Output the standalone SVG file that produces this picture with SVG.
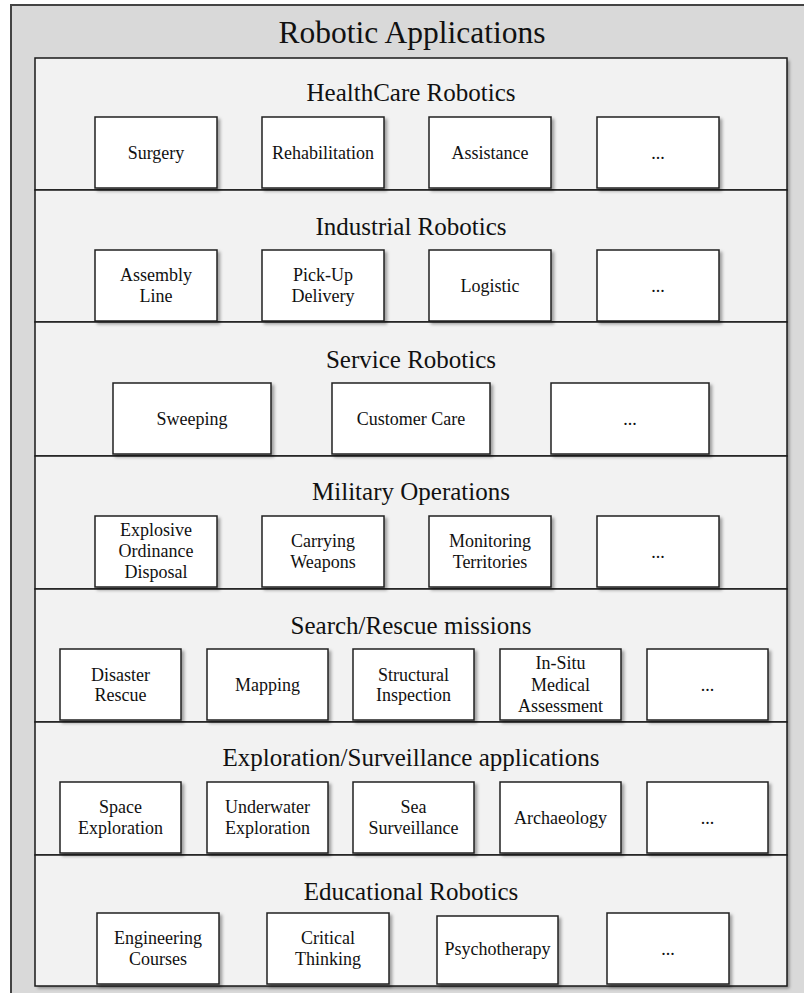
<svg xmlns="http://www.w3.org/2000/svg" width="804" height="993" viewBox="0 0 804 993">
<defs>
<filter id="sh" x="-10%" y="-10%" width="130%" height="140%">
<feDropShadow dx="2.5" dy="2.5" stdDeviation="1.6" flood-color="#000" flood-opacity="0.35"/>
</filter>
<style>
.outer{fill:#d9d9d9;stroke:#444;stroke-width:2}
.panel{fill:#f2f2f2;stroke:#1a1a1a;stroke-width:1.5}
.box{fill:#fff;stroke:#222;stroke-width:1.5;filter:url(#sh)}
.t{font-family:"Liberation Serif","Times New Roman",serif;fill:#111;text-anchor:middle}
.h1{font-size:31.5px}
.h2{font-size:25px}
.b{font-size:18px}
</style>
</defs>
<rect class="outer" x="11" y="5" width="810" height="1000"/>
<text class="t h1" x="412" y="43">Robotic Applications</text>
<rect x="35" y="58" width="752" height="928" fill="#f2f2f2" filter="url(#sh)"/>

<g id="panel-healthcare"><rect class="panel" x="35" y="58" width="752" height="132"/><text class="t h2" x="411" y="100.5">HealthCare Robotics</text></g>
<g id="panel-industrial"><rect class="panel" x="35" y="190" width="752" height="132"/><text class="t h2" x="411" y="235">Industrial Robotics</text></g>
<g id="panel-service"><rect class="panel" x="35" y="322" width="752" height="134"/><text class="t h2" x="411" y="367.5">Service Robotics</text></g>
<g id="panel-military"><rect class="panel" x="35" y="456" width="752" height="133"/><text class="t h2" x="411" y="500">Military Operations</text></g>
<g id="panel-search"><rect class="panel" x="35" y="589" width="752" height="133"/><text class="t h2" x="411" y="634">Search/Rescue missions</text></g>
<g id="panel-exploration"><rect class="panel" x="35" y="722" width="752" height="133"/><text class="t h2" x="411" y="766">Exploration/Surveillance applications</text></g>
<g id="panel-educational"><rect class="panel" x="35" y="855" width="752" height="131"/><text class="t h2" x="411" y="899.5">Educational Robotics</text></g>

<g id="hc-surgery"><rect class="box" x="95" y="117" width="122" height="71"/><text class="t b" x="156" y="159">Surgery</text></g>
<g id="hc-rehab"><rect class="box" x="262" y="117" width="122" height="71"/><text class="t b" x="323" y="159">Rehabilitation</text></g>
<g id="hc-assist"><rect class="box" x="429" y="117" width="122" height="71"/><text class="t b" x="490" y="159">Assistance</text></g>
<g id="hc-more"><rect class="box" x="597" y="117" width="122" height="71"/><text class="t b" x="658" y="159">...</text></g>

<g id="ind-assembly"><rect class="box" x="95" y="250" width="122" height="71"/><text class="t b" x="156" y="281">Assembly</text><text class="t b" x="156" y="301.5">Line</text></g>
<g id="ind-pickup"><rect class="box" x="262" y="250" width="122" height="71"/><text class="t b" x="323" y="281">Pick-Up</text><text class="t b" x="323" y="301.5">Delivery</text></g>
<g id="ind-logistic"><rect class="box" x="429" y="250" width="122" height="71"/><text class="t b" x="490" y="292">Logistic</text></g>
<g id="ind-more"><rect class="box" x="597" y="250" width="122" height="71"/><text class="t b" x="658" y="292">...</text></g>

<g id="svc-sweeping"><rect class="box" x="113" y="383" width="158" height="71"/><text class="t b" x="192" y="425">Sweeping</text></g>
<g id="svc-customer"><rect class="box" x="332" y="383" width="158" height="71"/><text class="t b" x="411" y="425">Customer Care</text></g>
<g id="svc-more"><rect class="box" x="551" y="383" width="158" height="71"/><text class="t b" x="630" y="425">...</text></g>

<g id="mil-eod"><rect class="box" x="95" y="516" width="122" height="71"/><text class="t b" x="156" y="536">Explosive</text><text class="t b" x="156" y="557.3">Ordinance</text><text class="t b" x="156" y="578.3">Disposal</text></g>
<g id="mil-carry"><rect class="box" x="262" y="516" width="122" height="71"/><text class="t b" x="323" y="547">Carrying</text><text class="t b" x="323" y="567.5">Weapons</text></g>
<g id="mil-monitor"><rect class="box" x="429" y="516" width="122" height="71"/><text class="t b" x="490" y="547">Monitoring</text><text class="t b" x="490" y="567.5">Territories</text></g>
<g id="mil-more"><rect class="box" x="597" y="516" width="122" height="71"/><text class="t b" x="658" y="558">...</text></g>

<g id="sr-disaster"><rect class="box" x="60" y="649" width="121" height="71"/><text class="t b" x="120.5" y="680.5">Disaster</text><text class="t b" x="120.5" y="701">Rescue</text></g>
<g id="sr-mapping"><rect class="box" x="207" y="649" width="121" height="71"/><text class="t b" x="267.5" y="691">Mapping</text></g>
<g id="sr-structural"><rect class="box" x="353" y="649" width="121" height="71"/><text class="t b" x="413.5" y="680.5">Structural</text><text class="t b" x="413.5" y="701">Inspection</text></g>
<g id="sr-insitu"><rect class="box" x="500" y="649" width="121" height="71"/><text class="t b" x="560.5" y="669">In-Situ</text><text class="t b" x="560.5" y="690.5">Medical</text><text class="t b" x="560.5" y="711.5">Assessment</text></g>
<g id="sr-more"><rect class="box" x="647" y="649" width="121" height="71"/><text class="t b" x="707.5" y="691">...</text></g>

<g id="ex-space"><rect class="box" x="60" y="782" width="121" height="71"/><text class="t b" x="120.5" y="813">Space</text><text class="t b" x="120.5" y="833.5">Exploration</text></g>
<g id="ex-underwater"><rect class="box" x="207" y="782" width="121" height="71"/><text class="t b" x="267.5" y="813">Underwater</text><text class="t b" x="267.5" y="833.5">Exploration</text></g>
<g id="ex-sea"><rect class="box" x="353" y="782" width="121" height="71"/><text class="t b" x="413.5" y="813">Sea</text><text class="t b" x="413.5" y="833.5">Surveillance</text></g>
<g id="ex-archaeology"><rect class="box" x="500" y="782" width="121" height="71"/><text class="t b" x="560.5" y="824">Archaeology</text></g>
<g id="ex-more"><rect class="box" x="647" y="782" width="121" height="71"/><text class="t b" x="707.5" y="824">...</text></g>

<g id="ed-engineering"><rect class="box" x="97" y="913" width="122" height="71"/><text class="t b" x="158" y="944">Engineering</text><text class="t b" x="158" y="964.5">Courses</text></g>
<g id="ed-critical"><rect class="box" x="267" y="913" width="122" height="71"/><text class="t b" x="328" y="944">Critical</text><text class="t b" x="328" y="964.5">Thinking</text></g>
<g id="ed-psycho"><rect class="box" x="437" y="916" width="121" height="68"/><text class="t b" x="497.5" y="955">Psychotherapy</text></g>
<g id="ed-more"><rect class="box" x="607" y="913" width="122" height="71"/><text class="t b" x="668" y="955">...</text></g>
</svg>
